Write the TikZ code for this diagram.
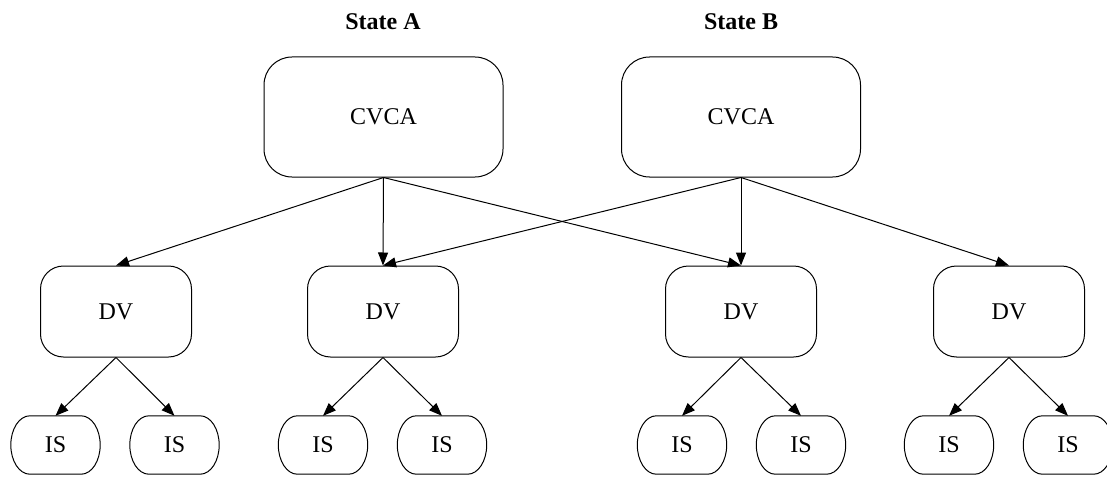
\documentclass[tikz,border=0pt]{standalone}
\usepackage{fontspec}
\setmainfont{Liberation Serif}
\usetikzlibrary{arrows.meta}
\begin{document}
\begin{tikzpicture}[x=1pt,y=-1pt,
  txt/.style={font=\fontsize{24}{28}\selectfont},
  title/.style={font=\fontsize{24}{28}\selectfont\bfseries},
  cvcabox/.style={draw, line width=1pt, rounded corners=28pt, minimum width=239pt, minimum height=120pt, inner sep=0pt, txt},
  dvbox/.style={draw, line width=1pt, rounded corners=23pt, minimum width=151pt, minimum height=91pt, inner sep=0pt, txt},
  isbox/.style={minimum width=89pt, minimum height=58pt, inner sep=0pt, txt},
  pill/.style={line width=1pt},
  edge/.style={line width=1pt, -{Triangle[length=13pt,width=10pt]}}]
\useasboundingbox (0,0) rectangle (1107,476);
\node[title] (ta) at (383,22) {State A};
\node[title] (tb) at (741,22) {State B};
\node[cvcabox] (ca) at (383.5,117) {CVCA};
\node[cvcabox] (cb) at (741,117) {CVCA};
\node[dvbox] (d1) at (116,311.5) {DV};
\node[dvbox] (d2) at (383,311.5) {DV};
\node[dvbox] (d3) at (741,311.5) {DV};
\node[dvbox] (d4) at (1009,311.5) {DV};
\node[isbox] (i1) at (55.5,445) {IS};
\node[isbox] (i2) at (174.5,445) {IS};
\node[isbox] (i3) at (323,445) {IS};
\node[isbox] (i4) at (442,445) {IS};
\node[isbox] (i5) at (682,445) {IS};
\node[isbox] (i6) at (801,445) {IS};
\node[isbox] (i7) at (949,445) {IS};
\node[isbox] (i8) at (1068,445) {IS};
\foreach \n in {i1,i2,i3,i4,i5,i6,i7,i8}{
  \draw[pill] ([xshift=19pt]\n.north west) -- ([xshift=-19pt]\n.north east)
    .. controls ([xshift=-8.5pt]\n.north east) and ([yshift=16pt]\n.east) .. (\n.east)
    .. controls ([yshift=-16pt]\n.east) and ([xshift=-8.5pt]\n.south east) .. ([xshift=-19pt]\n.south east)
    -- ([xshift=19pt]\n.south west)
    .. controls ([xshift=8.5pt]\n.south west) and ([yshift=-16pt]\n.west) .. (\n.west)
    .. controls ([yshift=16pt]\n.west) and ([xshift=8.5pt]\n.north west) .. ([xshift=19pt]\n.north west)
    -- cycle;
}
\draw[edge] (ca.south) -- (d1.north);
\draw[edge] (ca.south) -- (d2.north);
\draw[edge] (ca.south) -- (d3.north);
\draw[edge] (cb.south) -- (d2.north);
\draw[edge] (cb.south) -- (d3.north);
\draw[edge] (cb.south) -- (d4.north);
\foreach \d/\a/\b in {d1/i1/i2, d2/i3/i4, d3/i5/i6, d4/i7/i8}{
  \draw[edge] (\d.south) -- (\a.north);
  \draw[edge] (\d.south) -- (\b.north);
}
\end{tikzpicture}
\end{document}
